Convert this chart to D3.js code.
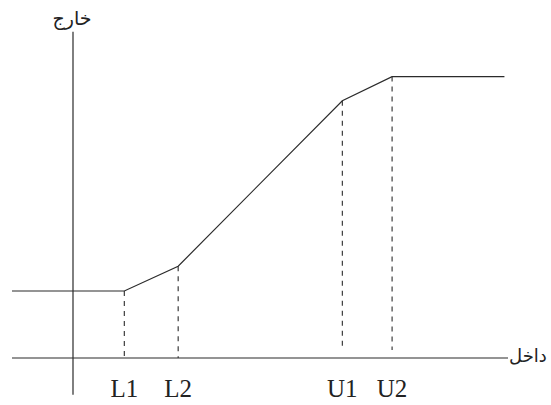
<!DOCTYPE html>
<html><head><meta charset="utf-8">
<script src="https://cdn.jsdelivr.net/npm/d3@7"></script>
<style>body{margin:0;background:#fff}svg{display:block}</style>
</head><body>
<script>
// Data
const breakLabels = ["L1", "L2", "U1", "U2"];
const breakInputs = [1, 2.05, 5.25, 6.22];
const curveInputs = [-1.19, 1, 2.05, 5.25, 6.22, 8.41];
const curveOutputs = [1, 1, 1.37, 3.84, 4.2, 4.2];
const axisLabelX = "داخل";
const axisLabelY = "خارج";

const W = 551, H = 405;
const x = d3.scaleLinear().domain([0, 1]).range([73, 124.3]);
const y = d3.scaleLinear().domain([0, 1]).range([358, 291]);

const svg = d3.select("body").append("svg").attr("width", W).attr("height", H);
const ink = "#2b2b2b";

// axes
svg.append("line").attr("x1", x(-1.19)).attr("x2", x(8.48)).attr("y1", y(0)).attr("y2", y(0))
  .attr("stroke", ink).attr("stroke-width", 1.2);
svg.append("line").attr("x1", x(0)).attr("x2", x(0)).attr("y1", y(4.87)).attr("y2", y(-0.55))
  .attr("stroke", ink).attr("stroke-width", 1.2);

// dashed guides
breakInputs.forEach((v, i) => {
  const out = curveOutputs[curveInputs.indexOf(v)];
  svg.append("line").attr("x1", x(v)).attr("x2", x(v))
    .attr("y1", y(out)).attr("y2", i < 2 ? y(0) : y(0.12))
    .attr("stroke", ink).attr("stroke-width", 1.1).attr("stroke-dasharray", "5,5");
  svg.append("text").attr("x", x(v)).attr("y", 397).attr("text-anchor", "middle")
    .attr("font-family", "Liberation Serif, Times New Roman, serif").attr("font-size", 25)
    .attr("fill", "#222").text(breakLabels[i]);
});

// curve
const pts = curveInputs.map((v, i) => [x(v), y(curveOutputs[i])]);
svg.append("path").attr("d", d3.line()(pts)).attr("fill", "none")
  .attr("stroke", ink).attr("stroke-width", 1.2);

// axis labels
svg.append("text").attr("x", 509).attr("y", 362).attr("font-family", "Noto Sans, DejaVu Sans, sans-serif")
  .attr("font-size", 18).attr("fill", "#222").attr("direction", "rtl").attr("text-anchor", "end").text(axisLabelX);
svg.append("text").attr("x", 72).attr("y", 25).attr("font-family", "Noto Sans, DejaVu Sans, sans-serif")
  .attr("font-size", 19).attr("fill", "#222").attr("text-anchor", "middle").text(axisLabelY);
</script>
</body></html>
